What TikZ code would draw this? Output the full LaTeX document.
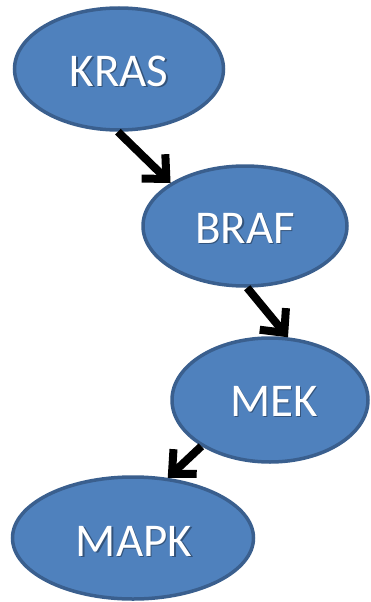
\documentclass[tikz,border=0pt]{standalone}
\usepackage{fontspec}
\setmainfont{Carlito}
\usetikzlibrary{shapes.geometric,arrows.meta}
\definecolor{nodefill}{HTML}{4F81BD}
\definecolor{nodeline}{HTML}{3A5F8E}
\begin{document}
\begin{tikzpicture}[x=1pt,y=-1pt,
  oval/.style={ellipse, fill=nodefill, draw=nodeline, line width=3.5pt, inner sep=0pt},
  lbl/.style={text=white, font=\fontsize{47}{54}\selectfont},
  shd/.style={text=black, text opacity=0.35, font=\fontsize{47}{54}\selectfont},
  conn/.style={line width=8pt, draw=black, -{Straight Barb[length=18pt,width=34pt]}}]
\useasboundingbox (0,0) rectangle (370,602);
\node[oval, minimum width=209pt, minimum height=122pt] (kras) at (119,69) {};
\node[oval, minimum width=204pt, minimum height=120pt] (braf) at (245,226) {};
\node[oval, minimum width=196pt, minimum height=124pt] (mek) at (270,400) {};
\node[oval, minimum width=241pt, minimum height=122pt] (mapk) at (133,538) {};
\node[shd] (kras-s) at (120.5,72.5) {KRAS};
\node[lbl] (kras-t) at (119,71) {KRAS};
\node[shd] (braf-s) at (246.5,229.5) {BRAF};
\node[lbl] (braf-t) at (245,228) {BRAF};
\node[shd] (mek-s) at (275.5,402.5) {MEK};
\node[lbl] (mek-t) at (274,401) {MEK};
\node[shd] (mapk-s) at (135.5,542.5) {MAPK};
\node[lbl] (mapk-t) at (134,541) {MAPK};
\draw[conn] (kras.-91) -- (braf.150);
\draw[conn] (braf.-88) -- (mek.74);
\draw[conn] (mek.214) -- (mapk.60);
\end{tikzpicture}
\end{document}
